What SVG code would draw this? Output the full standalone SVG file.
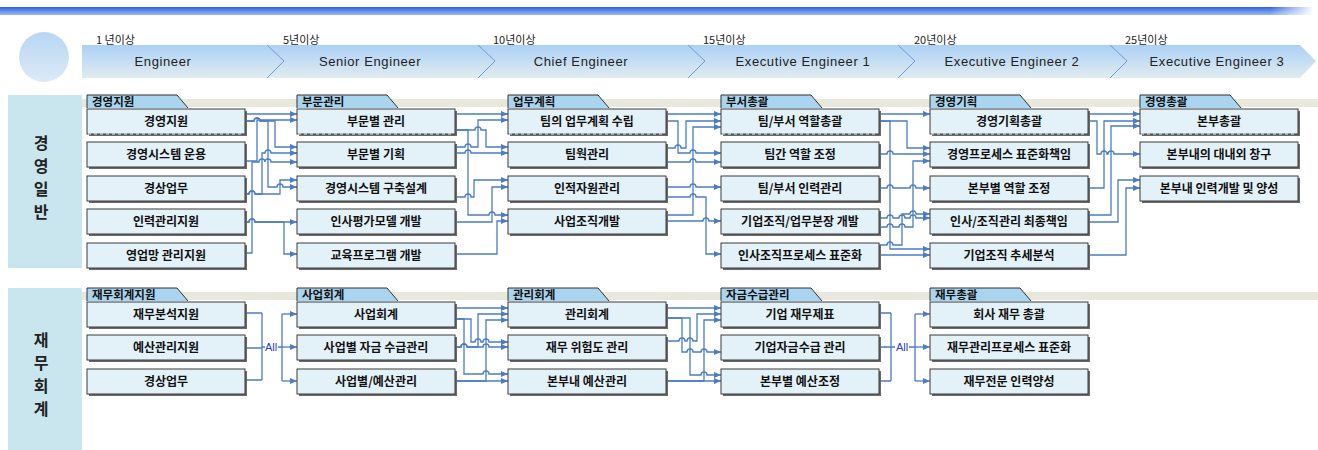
<svg xmlns="http://www.w3.org/2000/svg" width="1318" height="450" viewBox="0 0 1318 450">
<style>
.bx{fill:#e3f1f8;stroke:#3a3a3a;stroke-width:1}
.sh{fill:#6a6a6a}
.bt{font-family:"Noto Sans CJK KR","Noto Sans",sans-serif;font-size:12px;font-weight:bold;fill:#111;text-anchor:middle}
.tab{fill:#a9d5f0;stroke:#333;stroke-width:1}
.tt{font-family:"Noto Sans CJK KR","Noto Sans",sans-serif;font-size:11.5px;font-weight:bold;fill:#111}
.cn{fill:none;stroke:#4a7cc8;stroke-width:1.3}
.cna{fill:none;stroke:#4a7cc8;stroke-width:1.3;marker-end:url(#ah)}
.yr{font-family:"Noto Sans CJK KR","Noto Sans",sans-serif;font-size:11px;fill:#222}
.ht{font-family:"Liberation Sans",Arial,sans-serif;font-size:13px;fill:#222;text-anchor:middle;letter-spacing:0.6px}
.side{font-family:"Noto Sans CJK KR","Noto Sans",sans-serif;font-size:16px;font-weight:bold;fill:#222;text-anchor:middle}
.all{font-family:"Liberation Sans",Arial,sans-serif;font-size:11px;fill:#2a3ae8}
.band{fill:#e8e8dc}
.dash{stroke:#e3f1f8;stroke-width:1.2;stroke-dasharray:3 3}
.chev{fill:none;stroke:#6e9ad6;stroke-width:1}
</style>
<defs>
<marker id="ah" markerWidth="7" markerHeight="6" refX="7" refY="3" orient="auto" markerUnits="userSpaceOnUse"><path d="M0,0 L7,3 L0,6 z" fill="#4a7cc8"/></marker>
<linearGradient id="topbar" x1="0" y1="0" x2="0" y2="1"><stop offset="0" stop-color="#2f62e0"/><stop offset="1" stop-color="#9ab8f2"/></linearGradient>
<linearGradient id="topfade" x1="0" y1="0" x2="1" y2="0"><stop offset="0" stop-color="#fff" stop-opacity="0"/><stop offset="1" stop-color="#fff" stop-opacity="1"/></linearGradient>
<linearGradient id="hband" x1="0" y1="0" x2="0" y2="1"><stop offset="0" stop-color="#acd0f6"/><stop offset="1" stop-color="#e0ecef"/></linearGradient>
<linearGradient id="circ" x1="0" y1="0" x2="0" y2="1"><stop offset="0" stop-color="#b8d6f4"/><stop offset="1" stop-color="#dbeaf6"/></linearGradient>
</defs>

<!-- top bar -->
<rect x="0" y="7" width="1312" height="8" fill="url(#topbar)"/>
<rect x="1270" y="7" width="44" height="8" fill="url(#topfade)"/>

<!-- header -->
<g id="header">
<circle cx="44" cy="57" r="25" fill="url(#circ)"/>
<path d="M82,45 H1300 L1316,61 L1300,78 H82 Z" fill="url(#hband)"/>
<path class="chev" d="M267,45 L284,61 L267,78"/>
<path class="chev" d="M478,45 L495,61 L478,78"/>
<path class="chev" d="M688,45 L705,61 L688,78"/>
<path class="chev" d="M898,45 L915,61 L898,78"/>
<path class="chev" d="M1110,45 L1127,61 L1110,78"/>
<text class="yr" x="96" y="44">1 년이상</text>
<text class="yr" x="283" y="44">5년이상</text>
<text class="yr" x="493" y="44">10년이상</text>
<text class="yr" x="703" y="44">15년이상</text>
<text class="yr" x="914" y="44">20년이상</text>
<text class="yr" x="1125" y="44">25년이상</text>
<text class="ht" x="163" y="66">Engineer</text>
<text class="ht" x="370" y="66">Senior Engineer</text>
<text class="ht" x="581" y="66">Chief Engineer</text>
<text class="ht" x="803" y="66">Executive Engineer 1</text>
<text class="ht" x="1012" y="66">Executive Engineer 2</text>
<text class="ht" x="1217" y="66">Executive Engineer 3</text>
</g>

<!-- side labels -->
<g id="side-general">
<rect x="8" y="95" width="74" height="173" fill="#c9e6ef"/>
<text class="side" x="41" y="149">경</text>
<text class="side" x="41" y="172">영</text>
<text class="side" x="41" y="195">일</text>
<text class="side" x="41" y="218">반</text>
</g>
<g id="side-finance">
<rect x="8" y="288" width="74" height="162" fill="#c9e6ef"/>
<text class="side" x="41" y="346">재</text>
<text class="side" x="41" y="369">무</text>
<text class="side" x="41" y="392">회</text>
<text class="side" x="41" y="415">계</text>
</g>

<!-- bands -->
<rect class="band" x="82" y="99" width="1236" height="8"/>
<rect class="band" x="82" y="292" width="1236" height="8"/>

<!-- tabs -->
<g id="tabs">
<g id="tab-1"><path class="tab" d="M87,108 V95 H177 L188,108"/><text class="tt" x="92" y="106">경영지원</text></g>
<g id="tab-2"><path class="tab" d="M297,108 V95 H387 L398,108"/><text class="tt" x="302" y="106">부문관리</text></g>
<g id="tab-3"><path class="tab" d="M508,108 V95 H598 L609,108"/><text class="tt" x="513" y="106">업무계획</text></g>
<g id="tab-4"><path class="tab" d="M721,108 V95 H811 L822,108"/><text class="tt" x="726" y="106">부서총괄</text></g>
<g id="tab-5"><path class="tab" d="M930,108 V95 H1020 L1031,108"/><text class="tt" x="935" y="106">경영기획</text></g>
<g id="tab-6"><path class="tab" d="M1140,108 V95 H1230 L1241,108"/><text class="tt" x="1145" y="106">경영총괄</text></g>
<g id="tab-7"><path class="tab" d="M87,301 V288 H177 L188,301"/><text class="tt" x="92" y="299">재무회계지원</text></g>
<g id="tab-8"><path class="tab" d="M297,301 V288 H387 L398,301"/><text class="tt" x="302" y="299">사업회계</text></g>
<g id="tab-9"><path class="tab" d="M508,301 V288 H598 L609,301"/><text class="tt" x="513" y="299">관리회계</text></g>
<g id="tab-10"><path class="tab" d="M721,301 V288 H811 L822,301"/><text class="tt" x="726" y="299">자금수급관리</text></g>
<g id="tab-11"><path class="tab" d="M930,301 V288 H1020 L1031,301"/><text class="tt" x="935" y="299">재무총괄</text></g>
</g>

<!-- connectors -->
<g id="connectors">
<!-- gap 1 top -->
<path class="cna" d="M245,114 H297"/>
<path class="cna" d="M245,121 H254 a3,3 0 0 1 6,0 H275 V147 H297"/>
<path class="cna" d="M245,121 H254 a3,3 0 0 1 6,0 H268 V187 H277 a3,3 0 0 1 6,0 H297"/>
<path class="cna" d="M245,161 H257 V120 H297"/>
<path class="cna" d="M245,194 H249 a3,3 0 0 1 6,0 H262 V153 H265 a3,3 0 0 1 6,0 H297"/>
<path class="cna" d="M245,194 H249 a3,3 0 0 1 6,0 H280 V180 H297"/>
<path class="cna" d="M245,222 H249 a3,3 0 0 1 6,0 H297"/>
<path class="cna" d="M245,222 H249 a3,3 0 0 1 6,0 H284 V254 H297"/>
<path class="cna" d="M245,253 H252 V162 H259 a3,3 0 0 1 6,0 a3,3 0 0 1 6,0 H297"/>
<!-- gap 2 top -->
<path class="cna" d="M455,114 H508"/>
<path class="cna" d="M455,130 H468 V215 H489 a3,3 0 0 1 6,0 H508"/>
<path class="cna" d="M455,130 H475 a3,3 0 0 1 6,0 H486 V147 H508"/>
<path class="cna" d="M455,147 H465 a3,3 0 0 1 6,0 H478 V120 H508"/>
<path class="cna" d="M455,153 H465 a3,3 0 0 1 6,0 H508"/>
<path class="cna" d="M455,197 H465 a3,3 0 0 1 6,0 H474 V180 H508"/>
<path class="cna" d="M455,222 H492 V187 H508"/>
<path class="cna" d="M455,254 H497 V221 H508"/>
<!-- gap 3 top -->
<path class="cna" d="M666,114 H721"/>
<path class="cna" d="M666,121 H678 V153 H690 a3,3 0 0 1 6,0 H721"/>
<path class="cna" d="M666,148 H675 a3,3 0 0 1 6,0 H686 V121 H721"/>
<path class="cna" d="M666,215 H693 V127 H721"/>
<path class="cna" d="M666,162 H690 a3,3 0 0 1 6,0 H721"/>
<path class="cna" d="M666,187 H690 a3,3 0 0 1 6,0 H721"/>
<path class="cna" d="M666,197 H690 a3,3 0 0 1 6,0 H706 V254 H721"/>
<path class="cna" d="M666,221 H703 a3,3 0 0 1 6,0 H721"/>
<!-- gap 4 top -->
<path class="cna" d="M879,114 H930"/>
<path class="cna" d="M879,121 H907 V148 H930"/>
<path class="cna" d="M879,121 H890 V249 H930"/>
<path class="cna" d="M879,154 H887 a3,3 0 0 1 6,0 H930"/>
<path class="cna" d="M879,188 H887 a3,3 0 0 1 6,0 H910 a3,3 0 0 1 6,0 H930"/>
<path class="cna" d="M879,218 H887 a3,3 0 0 1 6,0 H899 a3,3 0 0 1 6,0 H910 a3,3 0 0 1 6,0 H930"/>
<path class="cna" d="M879,227 H887 a3,3 0 0 1 6,0 H899 a3,3 0 0 1 6,0 H913 V161 H930"/>
<path class="cna" d="M879,245 H887 a3,3 0 0 1 6,0 H902 V214 H910 a3,3 0 0 1 6,0 H930"/>
<path class="cna" d="M879,255 H930"/>
<!-- gap 5 top -->
<path class="cna" d="M1088,114 H1140"/>
<path class="cna" d="M1088,121 H1097 V154 H1101 a3,3 0 0 1 6,0 H1108 a3,3 0 0 1 6,0 H1140"/>
<path class="cna" d="M1088,188 H1104 V121 H1140"/>
<path class="cna" d="M1088,215 H1111 V126 H1140"/>
<path class="cna" d="M1088,222 H1118 V180 H1140"/>
<path class="cna" d="M1088,255 H1126 V188 H1140"/>
<!-- gap 1 bottom (All) -->
<path class="cn" d="M245,313 H262 M245,348 H262 M245,380 H262 M262,313 V380 M262,347 H265 M278,347 H282 M282,314 V381"/>
<path class="cna" d="M282,314 H297"/>
<path class="cna" d="M282,347 H297"/>
<path class="cna" d="M282,381 H297"/>
<!-- gap 2 bottom -->
<path class="cna" d="M455,308 H508"/>
<path class="cna" d="M455,319 H464 V374 H483 a3,3 0 0 1 6,0 H508"/>
<path class="cna" d="M455,319 H471 V342 H475 a3,3 0 0 1 6,0 H483 a3,3 0 0 1 6,0 H508"/>
<path class="cna" d="M455,347 H461 a3,3 0 0 1 6,0 H478 V314 H508"/>
<path class="cna" d="M455,347 H461 a3,3 0 0 1 6,0 H483 a3,3 0 0 1 6,0 H508"/>
<path class="cna" d="M455,381 H486 V320 H508"/>
<path class="cna" d="M455,381 H508"/>
<!-- gap 3 bottom -->
<path class="cna" d="M666,308 H721"/>
<path class="cna" d="M666,318 H682 V352 H687 a3,3 0 0 1 6,0 H701 a3,3 0 0 1 6,0 H721"/>
<path class="cna" d="M666,318 H690 V375 H701 a3,3 0 0 1 6,0 H721"/>
<path class="cna" d="M666,341 H679 a3,3 0 0 1 6,0 H687 a3,3 0 0 1 6,0 H697 V314 H721"/>
<path class="cna" d="M666,381 H721"/>
<path class="cna" d="M666,381 H704 V320 H721"/>
<!-- gap 4 bottom (All) -->
<path class="cn" d="M879,313 H891 M879,347 H891 M879,381 H891 M891,313 V381 M891,347 H895 M909,347 H915 M915,314 V381"/>
<path class="cna" d="M915,314 H930"/>
<path class="cna" d="M915,347 H930"/>
<path class="cna" d="M915,381 H930"/>
<text class="all" x="265" y="351">All</text>
<text class="all" x="896" y="351">All</text>
</g>

<!-- nodes top section -->
<g id="n-c1r1"><rect class="sh" x="89" y="111" width="158" height="25"/><rect class="bx" x="87" y="109" width="158" height="25"/><line class="dash" x1="88" y1="134" x2="244" y2="134"/><text class="bt" x="166" y="126">경영지원</text></g>
<g id="n-c1r2"><rect class="sh" x="89" y="144" width="158" height="25"/><rect class="bx" x="87" y="142" width="158" height="25"/><text class="bt" x="166" y="159">경영시스템 운용</text></g>
<g id="n-c1r3"><rect class="sh" x="89" y="178" width="158" height="25"/><rect class="bx" x="87" y="176" width="158" height="25"/><text class="bt" x="166" y="193">경상업무</text></g>
<g id="n-c1r4"><rect class="sh" x="89" y="211" width="158" height="25"/><rect class="bx" x="87" y="209" width="158" height="25"/><text class="bt" x="166" y="226">인력관리지원</text></g>
<g id="n-c1r5"><rect class="sh" x="89" y="245" width="158" height="25"/><rect class="bx" x="87" y="243" width="158" height="25"/><text class="bt" x="166" y="260">영업망 관리지원</text></g>

<g id="n-c2r1"><rect class="sh" x="299" y="111" width="158" height="25"/><rect class="bx" x="297" y="109" width="158" height="25"/><line class="dash" x1="298" y1="134" x2="454" y2="134"/><text class="bt" x="376" y="126">부문별 관리</text></g>
<g id="n-c2r2"><rect class="sh" x="299" y="144" width="158" height="25"/><rect class="bx" x="297" y="142" width="158" height="25"/><text class="bt" x="376" y="159">부문별 기획</text></g>
<g id="n-c2r3"><rect class="sh" x="299" y="178" width="158" height="25"/><rect class="bx" x="297" y="176" width="158" height="25"/><text class="bt" x="376" y="193">경영시스템 구축설계</text></g>
<g id="n-c2r4"><rect class="sh" x="299" y="211" width="158" height="25"/><rect class="bx" x="297" y="209" width="158" height="25"/><text class="bt" x="376" y="226">인사평가모델 개발</text></g>
<g id="n-c2r5"><rect class="sh" x="299" y="245" width="158" height="25"/><rect class="bx" x="297" y="243" width="158" height="25"/><text class="bt" x="376" y="260">교육프로그램 개발</text></g>

<g id="n-c3r1"><rect class="sh" x="510" y="111" width="158" height="25"/><rect class="bx" x="508" y="109" width="158" height="25"/><line class="dash" x1="509" y1="134" x2="665" y2="134"/><text class="bt" x="587" y="126">팀의 업무계획 수립</text></g>
<g id="n-c3r2"><rect class="sh" x="510" y="144" width="158" height="25"/><rect class="bx" x="508" y="142" width="158" height="25"/><text class="bt" x="587" y="159">팀웍관리</text></g>
<g id="n-c3r3"><rect class="sh" x="510" y="178" width="158" height="25"/><rect class="bx" x="508" y="176" width="158" height="25"/><text class="bt" x="587" y="193">인적자원관리</text></g>
<g id="n-c3r4"><rect class="sh" x="510" y="211" width="158" height="25"/><rect class="bx" x="508" y="209" width="158" height="25"/><text class="bt" x="587" y="226">사업조직개발</text></g>

<g id="n-c4r1"><rect class="sh" x="723" y="111" width="158" height="25"/><rect class="bx" x="721" y="109" width="158" height="25"/><line class="dash" x1="722" y1="134" x2="878" y2="134"/><text class="bt" x="800" y="126">팀/부서 역할총괄</text></g>
<g id="n-c4r2"><rect class="sh" x="723" y="144" width="158" height="25"/><rect class="bx" x="721" y="142" width="158" height="25"/><text class="bt" x="800" y="159">팀간 역할 조정</text></g>
<g id="n-c4r3"><rect class="sh" x="723" y="178" width="158" height="25"/><rect class="bx" x="721" y="176" width="158" height="25"/><text class="bt" x="800" y="193">팀/부서 인력관리</text></g>
<g id="n-c4r4"><rect class="sh" x="723" y="211" width="158" height="25"/><rect class="bx" x="721" y="209" width="158" height="25"/><text class="bt" x="800" y="226">기업조직/업무분장 개발</text></g>
<g id="n-c4r5"><rect class="sh" x="723" y="245" width="158" height="25"/><rect class="bx" x="721" y="243" width="158" height="25"/><text class="bt" x="800" y="260">인사조직프로세스 표준화</text></g>

<g id="n-c5r1"><rect class="sh" x="932" y="111" width="158" height="25"/><rect class="bx" x="930" y="109" width="158" height="25"/><line class="dash" x1="931" y1="134" x2="1087" y2="134"/><text class="bt" x="1009" y="126">경영기획총괄</text></g>
<g id="n-c5r2"><rect class="sh" x="932" y="144" width="158" height="25"/><rect class="bx" x="930" y="142" width="158" height="25"/><text class="bt" x="1009" y="159">경영프로세스 표준화책임</text></g>
<g id="n-c5r3"><rect class="sh" x="932" y="178" width="158" height="25"/><rect class="bx" x="930" y="176" width="158" height="25"/><text class="bt" x="1009" y="193">본부별 역할 조정</text></g>
<g id="n-c5r4"><rect class="sh" x="932" y="211" width="158" height="25"/><rect class="bx" x="930" y="209" width="158" height="25"/><text class="bt" x="1009" y="226">인사/조직관리 최종책임</text></g>
<g id="n-c5r5"><rect class="sh" x="932" y="245" width="158" height="25"/><rect class="bx" x="930" y="243" width="158" height="25"/><text class="bt" x="1009" y="260">기업조직 추세분석</text></g>

<g id="n-c6r1"><rect class="sh" x="1142" y="111" width="158" height="25"/><rect class="bx" x="1140" y="109" width="158" height="25"/><line class="dash" x1="1141" y1="134" x2="1297" y2="134"/><text class="bt" x="1219" y="126">본부총괄</text></g>
<g id="n-c6r2"><rect class="sh" x="1142" y="144" width="158" height="25"/><rect class="bx" x="1140" y="142" width="158" height="25"/><text class="bt" x="1219" y="159">본부내의 대내외 창구</text></g>
<g id="n-c6r3"><rect class="sh" x="1142" y="178" width="158" height="25"/><rect class="bx" x="1140" y="176" width="158" height="25"/><text class="bt" x="1219" y="193">본부내 인력개발 및 양성</text></g>

<!-- nodes bottom section -->
<g id="n-f1r1"><rect class="sh" x="89" y="304" width="158" height="25"/><rect class="bx" x="87" y="302" width="158" height="25"/><text class="bt" x="166" y="319">재무분석지원</text></g>
<g id="n-f1r2"><rect class="sh" x="89" y="337" width="158" height="25"/><rect class="bx" x="87" y="335" width="158" height="25"/><text class="bt" x="166" y="352">예산관리지원</text></g>
<g id="n-f1r3"><rect class="sh" x="89" y="371" width="158" height="25"/><rect class="bx" x="87" y="369" width="158" height="25"/><text class="bt" x="166" y="386">경상업무</text></g>

<g id="n-f2r1"><rect class="sh" x="299" y="304" width="158" height="25"/><rect class="bx" x="297" y="302" width="158" height="25"/><text class="bt" x="376" y="319">사업회계</text></g>
<g id="n-f2r2"><rect class="sh" x="299" y="337" width="158" height="25"/><rect class="bx" x="297" y="335" width="158" height="25"/><text class="bt" x="376" y="352">사업별 자금 수급관리</text></g>
<g id="n-f2r3"><rect class="sh" x="299" y="371" width="158" height="25"/><rect class="bx" x="297" y="369" width="158" height="25"/><text class="bt" x="376" y="386">사업별/예산관리</text></g>

<g id="n-f3r1"><rect class="sh" x="510" y="304" width="158" height="25"/><rect class="bx" x="508" y="302" width="158" height="25"/><text class="bt" x="587" y="319">관리회계</text></g>
<g id="n-f3r2"><rect class="sh" x="510" y="337" width="158" height="25"/><rect class="bx" x="508" y="335" width="158" height="25"/><text class="bt" x="587" y="352">재무 위험도 관리</text></g>
<g id="n-f3r3"><rect class="sh" x="510" y="371" width="158" height="25"/><rect class="bx" x="508" y="369" width="158" height="25"/><text class="bt" x="587" y="386">본부내 예산관리</text></g>

<g id="n-f4r1"><rect class="sh" x="723" y="304" width="158" height="25"/><rect class="bx" x="721" y="302" width="158" height="25"/><text class="bt" x="800" y="319">기업 재무제표</text></g>
<g id="n-f4r2"><rect class="sh" x="723" y="337" width="158" height="25"/><rect class="bx" x="721" y="335" width="158" height="25"/><text class="bt" x="800" y="352">기업자금수급 관리</text></g>
<g id="n-f4r3"><rect class="sh" x="723" y="371" width="158" height="25"/><rect class="bx" x="721" y="369" width="158" height="25"/><text class="bt" x="800" y="386">본부별 예산조정</text></g>

<g id="n-f5r1"><rect class="sh" x="932" y="304" width="158" height="25"/><rect class="bx" x="930" y="302" width="158" height="25"/><text class="bt" x="1009" y="319">회사 재무 총괄</text></g>
<g id="n-f5r2"><rect class="sh" x="932" y="337" width="158" height="25"/><rect class="bx" x="930" y="335" width="158" height="25"/><text class="bt" x="1009" y="352">재무관리프로세스 표준화</text></g>
<g id="n-f5r3"><rect class="sh" x="932" y="371" width="158" height="25"/><rect class="bx" x="930" y="369" width="158" height="25"/><text class="bt" x="1009" y="386">재무전문 인력양성</text></g>
</svg>
